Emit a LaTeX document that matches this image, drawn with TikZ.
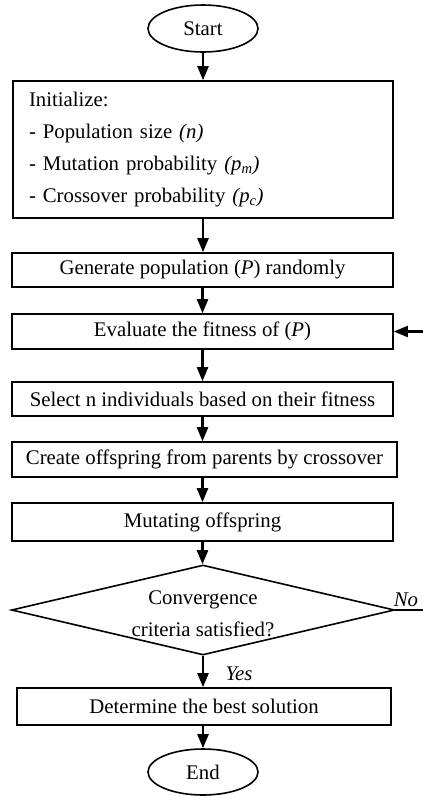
\documentclass[tikz,border=0pt]{standalone}
\usepackage{fontspec}
\setmainfont{Liberation Serif}
\usetikzlibrary{arrows.meta,shapes.geometric}
\begin{document}
\begin{tikzpicture}[x=1pt,y=-1pt,
  every node/.style={font=\fontsize{20.8}{31.7}\selectfont},
  box/.style={draw, line width=1.6pt, rectangle, inner sep=0pt},
  term/.style={draw, line width=1.6pt, ellipse, minimum width=110pt, minimum height=47pt, inner sep=0pt},
  arr/.style={line width=2.2pt, -{Triangle[length=14pt,width=11pt]}},
  lbl/.style={font=\fontsize{20.8}{25}\selectfont\itshape, inner sep=0pt}]
\useasboundingbox (0,0) rectangle (423,796);
\node[term] (start) at (203,28.5) {Start};
\node[box, minimum width=380pt, minimum height=137pt, text width=348pt, align=left] (init) at (203,149.5)
  {Initialize:\\
   - Population size \textit{(n)}\\
   - Mutation probability \textit{(p\textsubscript{m})}\\
   - Crossover probability \textit{(p\textsubscript{c})}};
\node[box, minimum width=381pt, minimum height=34pt] (gen) at (202.5,270) {Generate population (\textit{P}) randomly};
\node[box, minimum width=381pt, minimum height=35pt] (eval) at (202.5,331.5) {Evaluate the fitness of (\textit{P})};
\node[box, minimum width=381pt, minimum height=34pt] (sel) at (202.5,399) {Select n individuals based on their fitness};
\node[box, minimum width=385pt, minimum height=35pt] (cross) at (204.5,459.5) {Create offspring from parents by crossover};
\node[box, minimum width=381pt, minimum height=38pt] (mut) at (202.5,522) {Mutating offspring};
\node[draw, line width=1.6pt, diamond, minimum width=383pt, minimum height=90pt, inner sep=0pt] (dec) at (203,610) {};
\node[align=center, inner sep=0pt] (dectext) at (203,614) {Convergence\\criteria satisfied?};
\node[box, minimum width=374pt, minimum height=37pt] (det) at (204,706.5) {Determine the best solution};
\node[term, minimum height=46pt] (end) at (203,772) {End};
\node[lbl] (no) at (406,600) {No};
\node[lbl] (yes) at (239,674) {Yes};
\draw[arr] (start.south) -- (start.south |- init.north);
\draw[arr] (init.south) -- (init.south |- gen.north);
\draw[arr] (gen.south) -- (gen.south |- eval.north);
\draw[arr] (eval.south) -- (eval.south |- sel.north);
\draw[arr] (sel.south) -- (sel.south |- cross.north);
\draw[arr] (cross.south -| sel.south) -- (sel.south |- mut.north);
\draw[arr] (mut.south) -- (mut.south |- dec.north);
\draw[arr] (dec.south) -- (dec.south |- det.north);
\draw[arr] (det.south -| end.north) -- (end.north);
\draw[arr] (dec.east) -- ++(34,0) |- (eval.east);
\end{tikzpicture}
\end{document}
